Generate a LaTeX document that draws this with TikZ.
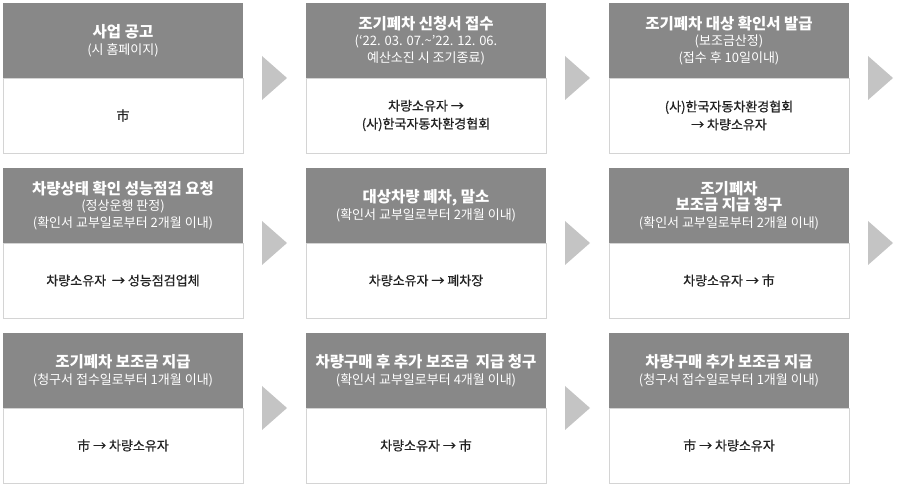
\documentclass[tikz,border=0pt]{standalone}
\usepackage{fontspec}
\setmainfont{Noto Sans CJK KR}
\newfontfamily\medfont[FakeBold=0.6]{Noto Sans CJK KR}
\usepackage{tikz}
\usetikzlibrary{positioning,shapes.geometric}
\definecolor{hdgray}{RGB}{136,136,136}
\definecolor{bdgray}{RGB}{212,212,212}
\definecolor{arrgray}{RGB}{196,196,196}
\definecolor{txtgray}{RGB}{34,34,34}
\newcommand\ttl[1]{{\fontsize{15.5}{17}\selectfont\bfseries #1}}

\begin{document}
\begin{tikzpicture}[x=1pt,y=1pt,
  hd/.style={fill=hdgray,text=white,minimum width=240pt,minimum height=75pt,inner sep=0pt,outer sep=0pt,align=center,font=\fontsize{13}{16.5}\selectfont},
  bd/.style={draw=bdgray,line width=0.8pt,fill=white,minimum width=240pt,minimum height=75pt,inner sep=0pt,outer sep=0pt,align=center,text=txtgray,font=\medfont\fontsize{13}{18}\selectfont},
  arr/.style={isosceles triangle,isosceles triangle stretches,fill=arrgray,minimum width=44pt,minimum height=25pt,inner sep=0pt,outer sep=0pt}]
\useasboundingbox (0,0) rectangle (903,-486);
% row 1
\node[hd,anchor=north west] (h1) at (3,-3) {\ttl{사업 공고}\\(시 홈페이지)};
\node[bd,below=0pt of h1] (b1) {市};
\node[hd,right=63pt of h1] (h2) {\ttl{조기폐차 신청서 접수}\\(‘22. 03. 07.\textasciitilde’22. 12. 06.\\예산소진 시 조기종료)};
\node[bd,below=0pt of h2] (b2) {차량소유자 →\\(사)한국자동차환경협회};
\node[hd,right=63pt of h2] (h3) {\ttl{조기폐차 대상 확인서 발급}\\(보조금산정)\\(접수 후 10일이내)};
\node[bd,below=0pt of h3] (b3) {(사)한국자동차환경협회\\→ 차량소유자};
% row 2
\node[hd,below=15pt of b1] (h4) {\ttl{차량상태 확인 성능점검 요청}\\(정상운행 판정)\\(확인서 교부일로부터 2개월 이내)};
\node[bd,below=0pt of h4] (b4) {차량소유자 \ → 성능점검업체};
\node[hd,right=63pt of h4] (h5) {\ttl{대상차량 폐차, 말소}\\(확인서 교부일로부터 2개월 이내)};
\node[bd,below=0pt of h5] (b5) {차량소유자 → 폐차장};
\node[hd,right=63pt of h5] (h6) {\ttl{조기폐차}\\\ttl{보조금 지급 청구}\\(확인서 교부일로부터 2개월 이내)};
\node[bd,below=0pt of h6] (b6) {차량소유자 → 市};
% row 3
\node[hd,below=15pt of b4] (h7) {\ttl{조기폐차 보조금 지급}\\(청구서 접수일로부터 1개월 이내)};
\node[bd,below=0pt of h7] (b7) {市 → 차량소유자};
\node[hd,right=63pt of h7] (h8) {\ttl{차량구매 후 추가 보조금 \ 지급 청구}\\(확인서 교부일로부터 4개월 이내)};
\node[bd,below=0pt of h8] (b8) {차량소유자 → 市};
\node[hd,right=63pt of h8] (h9) {\ttl{차량구매 추가 보조금 지급}\\(청구서 접수일로부터 1개월 이내)};
\node[bd,below=0pt of h9] (b9) {市 → 차량소유자};
% chevrons
\foreach \c/\n in {b1/a1,b2/a2,b3/a3,b4/a4,b5/a5,b6/a6,b7/a7,b8/a8}
  \node[arr,right=19pt of \c.north east] (\n) {};
\end{tikzpicture}
\end{document}
